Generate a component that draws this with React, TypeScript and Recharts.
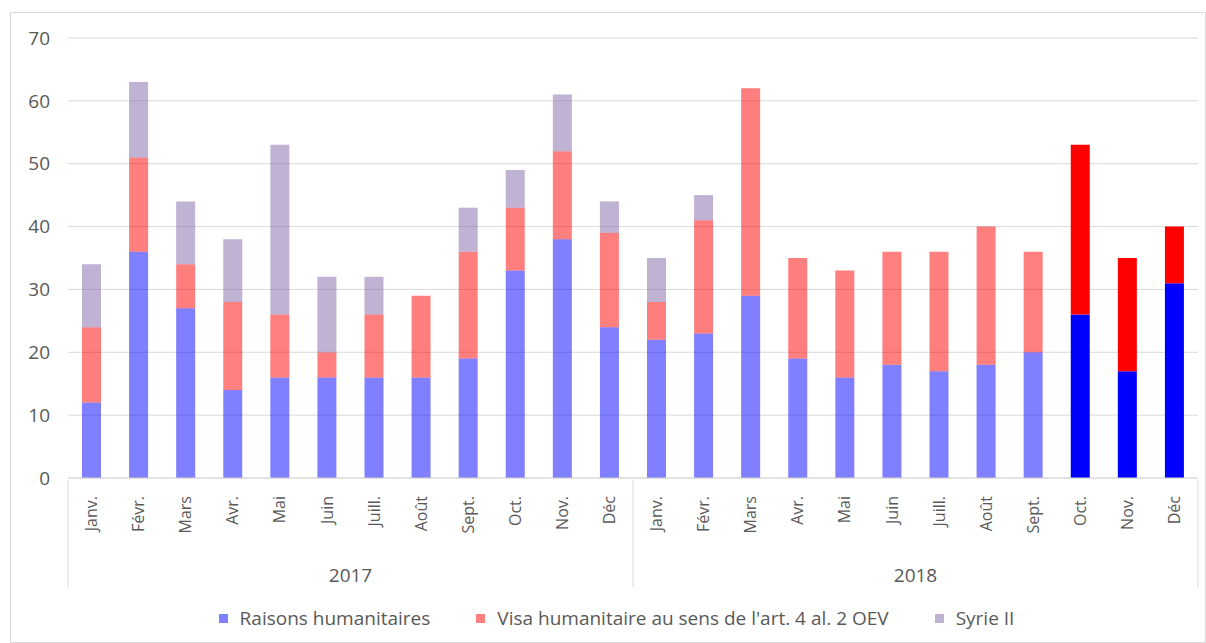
import { Bar, BarChart, CartesianGrid, Cell, Legend, XAxis, YAxis } from "recharts"

const months = ["Janv.", "Févr.", "Mars", "Avr.", "Mai", "Juin", "Juill.", "Août", "Sept.", "Oct.", "Nov.", "Déc"]
const years = ["2017", "2018"]

// stacked values, 2017 then 2018
const humanitaires = [12, 36, 27, 14, 16, 16, 16, 16, 19, 33, 38, 24, 22, 23, 29, 19, 16, 18, 17, 18, 20, 26, 17, 31]
const visa = [12, 15, 7, 14, 10, 4, 10, 13, 17, 10, 14, 15, 6, 18, 33, 16, 17, 18, 19, 22, 16, 27, 18, 9]
const syrie = [10, 12, 10, 10, 27, 12, 6, 0, 7, 6, 9, 5, 7, 4, 0, 0, 0, 0, 0, 0, 0, 0, 0, 0]

// last three months are drawn in full colour
const highlighted = [21, 22, 23]

const yTicks = [0, 10, 20, 30, 40, 50, 60, 70]

const seriesNames = ["Raisons humanitaires", "Visa humanitaire au sens de l'art. 4 al. 2 OEV", "Syrie II"]
const seriesColors = ["#0000ff", "#ff0000", "#7f66a8"]

const data = humanitaires.map((h, i) => ({
  key: i,
  month: months[i % 12],
  year: years[Math.floor(i / 12)],
  humanitaires: h,
  visa: visa[i],
  syrie: syrie[i],
}))

const font = "'Open Sans', sans-serif"
const textColor = "#595959"
const lineColor = "#d9d9d9"

function MonthTick(props: any) {
  const { x, y, payload, index } = props
  const half = payload?.offset ?? 23.5
  const i = index ?? payload?.index ?? 0
  return (
    <g>
      <text
        transform={`translate(${x},${y + 16}) rotate(-90)`}
        textAnchor="end"
        dy="0.35em"
        fill={textColor}
        fontSize={16}
        fontFamily={font}
      >
        {data[i]?.month}
      </text>
      {i % 12 === 0 && <line x1={x - half} x2={x - half} y1={y} y2={y + 107} stroke={lineColor} />}
      {i === data.length - 1 && <line x1={x + half} x2={x + half} y1={y} y2={y + 107} stroke={lineColor} />}
      {i % 12 === 6 && (
        <text x={x - half} y={y + 95} dy="0.35em" textAnchor="middle" fill={textColor} fontSize={19} fontFamily={font}>
          {data[i]?.year}
        </text>
      )}
    </g>
  )
}

function LegendBox() {
  return (
    <div
      style={{
        height: 30,
        display: "flex",
        justifyContent: "center",
        alignItems: "center",
        gap: 46,
        fontFamily: font,
        fontSize: 19,
        color: textColor,
        paddingLeft: 24,
      }}
    >
      {seriesNames.map((name, i) => (
        <div key={name} style={{ display: "flex", alignItems: "center", gap: 12 }}>
          <span style={{ width: 9, height: 9, background: seriesColors[i], opacity: 0.5, display: "inline-block" }} />
          <span>{name}</span>
        </div>
      ))}
    </div>
  )
}

export default function App() {
  return (
    <div
      style={{
        position: "absolute",
        left: 10,
        top: 12,
        width: 1196,
        height: 631,
        border: `1px solid ${lineColor}`,
        boxSizing: "border-box",
        background: "#fff",
      }}
    >
      <BarChart width={1194} height={629} data={data} margin={{ top: 25, right: 7, left: 0, bottom: 9 }} barSize={19}>
        <CartesianGrid vertical={false} stroke={lineColor} />
        <XAxis
          dataKey="key"
          interval={0}
          height={125}
          tickSize={0}
          tickLine={false}
          axisLine={{ stroke: lineColor }}
          tick={<MonthTick />}
        />
        <YAxis
          width={57}
          domain={[0, 70]}
          ticks={yTicks}
          axisLine={false}
          tickLine={false}
          tick={{ fill: textColor, fontSize: 19, fontFamily: font }}
          tickMargin={12}
        />
        <Legend verticalAlign="bottom" content={() => <LegendBox />} />
        <Bar dataKey="humanitaires" stackId="a" fill={seriesColors[0]} isAnimationActive={false}>
          {data.map((d) => (
            <Cell key={d.key} fillOpacity={highlighted.includes(d.key) ? 1 : 0.5} />
          ))}
        </Bar>
        <Bar dataKey="visa" stackId="a" fill={seriesColors[1]} isAnimationActive={false}>
          {data.map((d) => (
            <Cell key={d.key} fillOpacity={highlighted.includes(d.key) ? 1 : 0.5} />
          ))}
        </Bar>
        <Bar dataKey="syrie" stackId="a" fill={seriesColors[2]} fillOpacity={0.5} isAnimationActive={false} />
      </BarChart>
    </div>
  )
}
